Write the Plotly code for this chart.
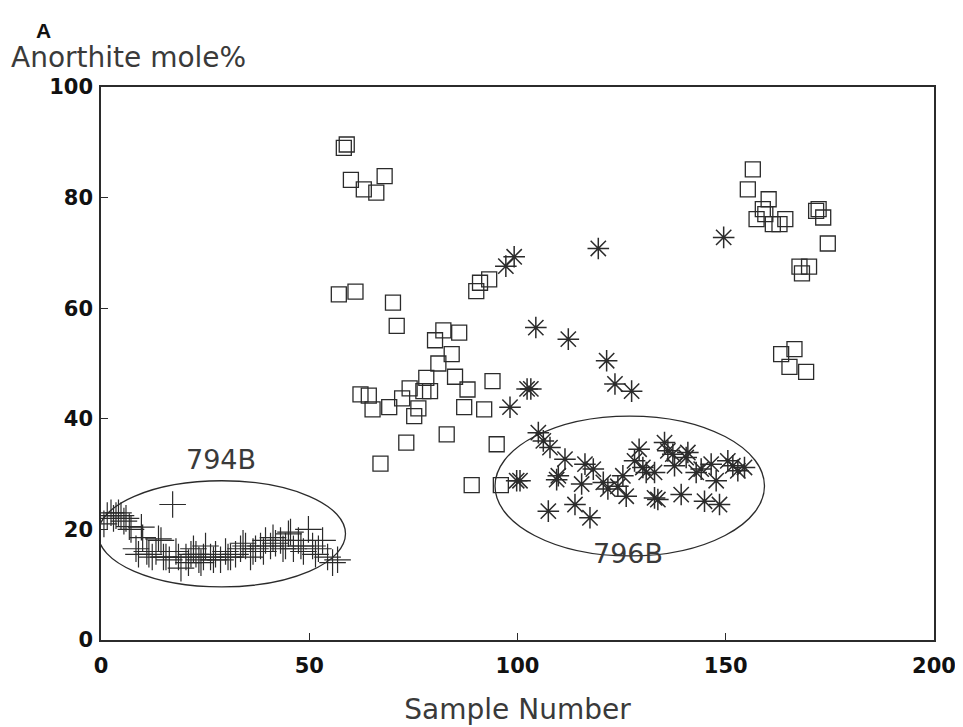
import plotly.graph_objects as go

# Site 794B (crosses)
x_794 = [0.7, 1.5, 2.4, 3.0, 3.6, 4.2, 4.8, 5.5, 6.0, 6.8, 7.2, 8.4, 9.0, 9.7, 10.0, 11.0, 11.5, 12.3,
         13.2, 13.8, 14.4, 15.0, 15.6, 16.4, 17.2, 18.0, 18.6, 19.2, 20.4, 21.0, 21.6, 22.2, 22.8, 23.5,
         24.0, 24.6, 25.1, 26.3, 27.0, 27.5, 28.7, 29.9, 30.5, 31.1, 32.3, 33.5, 34.1, 34.7, 35.9, 36.5,
         37.1, 38.3, 39.0, 39.5, 40.7, 41.3, 41.9, 43.1, 43.7, 44.3, 45.0, 45.5, 46.2, 47.4, 48.0, 48.6,
         49.8, 50.8, 51.5, 52.2, 53.2, 54.4, 55.6, 56.8]
y_794 = [21.0, 22.5, 23.0, 22.0, 22.5, 23.0, 22.5, 21.5, 22.0, 20.5, 20.0, 16.5, 15.5, 20.4, 18.5, 16.0, 15.5, 15.0,
         16.0, 18.3, 18.0, 15.0, 15.0, 14.5, 24.5, 16.0, 15.0, 13.0, 15.0, 14.0, 15.5, 16.5, 15.5, 14.5,
         14.0, 15.0, 17.0, 15.0, 14.5, 15.5, 14.5, 16.0, 15.0, 15.0, 15.5, 16.5, 17.5, 17.0, 15.0, 16.0,
         16.5, 17.0, 16.0, 18.0, 17.0, 18.5, 17.5, 18.0, 16.5, 17.0, 19.2, 19.5, 16.5, 18.0, 17.0, 16.0,
         20.0, 17.0, 15.5, 16.5, 18.0, 15.0, 14.0, 14.5]

# Squares
x_sq = [58.3, 59.0, 60.0, 63.1, 66.1, 68.1, 57.1, 61.1, 70.1, 71.0, 90.1, 91.0, 93.2,
        82.2, 86.0, 80.2, 84.2, 81.0, 78.1, 85.0, 94.0, 62.3, 64.3, 74.1, 77.4, 79.0, 88.0,
        72.3, 65.2, 69.2, 76.2, 75.2, 87.2, 92.0, 73.3, 83.0, 95.0, 67.1, 89.0, 96.0,
        156.5, 155.3, 160.3, 158.9, 157.4, 159.5, 161.3, 164.3, 162.9, 171.7, 172.3, 173.4,
        174.5, 167.7, 170.0, 168.3, 163.3, 166.5, 165.3, 169.3]
y_sq = [89.0, 89.6, 83.2, 81.5, 80.9, 83.9, 62.5, 63.0, 61.0, 56.8, 63.1, 64.6, 65.2,
        56.0, 55.6, 54.2, 51.7, 50.0, 47.4, 47.6, 46.8, 44.4, 44.2, 45.5, 45.0, 45.0, 45.3,
        43.7, 41.7, 42.1, 41.9, 40.5, 42.1, 41.7, 35.7, 37.2, 35.4, 31.9, 28.0, 28.0,
        85.1, 81.5, 79.7, 77.9, 76.1, 77.0, 75.2, 76.1, 75.2, 77.6, 77.9, 76.4,
        71.7, 67.5, 67.5, 66.3, 51.7, 52.6, 49.4, 48.5]

# Site 796B (asterisks)
x_796 = [97.2, 99.2, 119.4, 104.4, 112.2, 121.4, 102.3, 103.2, 123.4, 127.4, 98.2, 149.5,
         105.0, 106.2, 107.8, 111.4, 100.6, 99.8, 109.8, 109.4, 116.2, 118.2, 115.4, 113.8,
         107.4, 117.4, 120.6, 121.7, 125.3, 124.1, 126.1, 129.2, 128.1, 130.1, 130.9, 132.9,
         133.7, 135.3, 136.1, 137.3, 137.7, 140.9, 140.5, 132.9, 139.3, 142.9, 144.1, 146.5,
         147.7, 144.9, 148.5, 150.5, 151.7, 152.9, 154.5]
y_796 = [67.6, 69.3, 70.8, 56.5, 54.4, 50.5, 45.4, 45.4, 46.3, 45.0, 42.1, 72.8,
         37.5, 36.0, 34.8, 32.7, 28.8, 28.8, 29.7, 29.0, 31.8, 30.9, 28.2, 24.5,
         23.3, 22.1, 28.5, 27.3, 29.7, 27.8, 26.0, 34.5, 32.4, 31.2, 30.3, 25.7,
         25.4, 35.7, 34.2, 33.6, 31.5, 33.9, 33.0, 30.3, 26.3, 30.3, 30.9, 31.8,
         28.8, 25.1, 24.5, 32.4, 31.5, 30.6, 31.2]

x_ticks = [0, 50, 100, 150, 200]
y_ticks = [0, 20, 40, 60, 80, 100]

ink = "#2b2b2b"
txt = "#3a3a3a"
light_font = "DejaVu Sans"

fig = go.Figure()
fig.add_trace(go.Scatter(x=x_794, y=y_794, mode="markers", name="794B",
                         marker=dict(symbol="cross-thin-open", size=19, color=ink,
                                     line=dict(color=ink, width=1.2))))
fig.add_trace(go.Scatter(x=x_sq, y=y_sq, mode="markers", name="squares",
                         marker=dict(symbol="square-open", size=15, color=ink,
                                     line=dict(color=ink, width=1.3))))
fig.add_trace(go.Scatter(x=x_796, y=y_796, mode="markers", name="796B",
                         marker=dict(symbol="asterisk-open", size=18, color=ink,
                                     line=dict(color=ink, width=1.5))))

fig.add_shape(type="circle", xref="x", yref="y", x0=-0.7, x1=58.7, y0=9.6, y1=28.8,
              line=dict(color=ink, width=1.3))
fig.add_shape(type="circle", xref="x", yref="y", x0=94.6, x1=159.3, y0=15.2, y1=40.5,
              line=dict(color=ink, width=1.3))

fig.add_annotation(x=28.7, y=32.7, xref="x", yref="y", text="794B", showarrow=False,
                   font=dict(family=light_font, size=27, color=txt))
fig.add_annotation(x=126.5, y=15.6, xref="x", yref="y", text="796B", showarrow=False,
                   font=dict(family=light_font, size=27, color=txt))

fig.add_annotation(x=-0.08, y=1.102, xref="paper", yref="paper", text="<b>A</b>",
                   showarrow=False, xanchor="left", yanchor="middle",
                   font=dict(family="Liberation Sans", size=21, color="#111"))
fig.add_annotation(x=-0.111, y=1.054, xref="paper", yref="paper", text="Anorthite mole%",
                   showarrow=False, xanchor="left", yanchor="middle",
                   font=dict(family=light_font, size=28, color=txt))

fig.update_layout(
    width=963, height=727,
    margin=dict(l=93, r=37, t=79, b=95),
    paper_bgcolor="white", plot_bgcolor="white",
    showlegend=False,
    xaxis=dict(range=[0, 200], tickvals=x_ticks, ticks="inside", ticklen=7, tickcolor=ink,
               showline=True, linecolor=ink, linewidth=1.5, mirror=True,
               showgrid=False, zeroline=False, ticklabelstandoff=6,
               tickfont=dict(family="DejaVu Sans", size=21, color="#111", weight="bold"),
               title=dict(text="Sample Number", standoff=22,
                          font=dict(family=light_font, size=28, color=txt))),
    yaxis=dict(range=[0, 100], tickvals=y_ticks, ticks="inside", ticklen=7, tickcolor=ink,
               showline=True, linecolor=ink, linewidth=1.5, mirror=True,
               showgrid=False, zeroline=False, ticklabelstandoff=2,
               tickfont=dict(family="DejaVu Sans", size=21, color="#111", weight="bold")),
)

fig.write_html("out.html")
